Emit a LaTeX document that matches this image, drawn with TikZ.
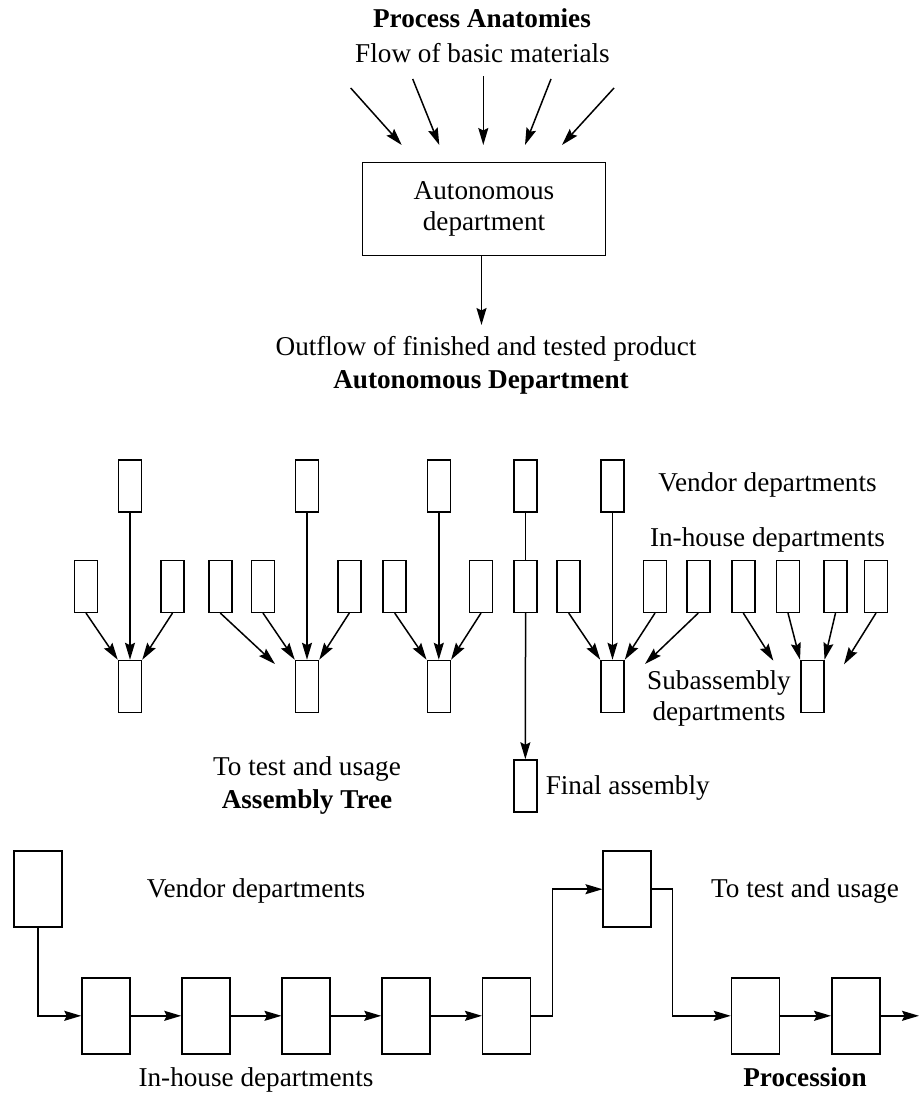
\documentclass[tikz,border=0pt]{standalone}
\usepackage{fontspec}
\setmainfont{Liberation Serif}
\usetikzlibrary{arrows.meta}
\newcommand\myfs{\fontsize{27.2}{31.3}\selectfont}
\begin{document}
\begin{tikzpicture}[x=1pt,y=-1pt,
  line width=1.5pt,
  arr/.style={-{Stealth[length=17pt,width=10pt,inset=2.5pt]}},
  dept/.style={draw, minimum width=23pt, minimum height=52pt, inner sep=0pt},
  pbox/.style={draw, minimum width=48pt, minimum height=76pt, inner sep=0pt},
  lbl/.style={inner sep=0pt, anchor=base, font=\myfs},
  bold/.style={font=\myfs\bfseries}
  ]
\useasboundingbox (0,0) rectangle (919,1095);

% ---------- Process anatomies / autonomous department ----------
\node[lbl,bold] (tpa) at (482,27) {Process Anatomies};
\node[lbl] (tflow) at (482.5,62) {Flow of basic materials};
\coordinate (a1s) at (350.7,88);  \coordinate (a1e) at (401.7,145);
\coordinate (a2s) at (412.7,79);  \coordinate (a2e) at (439.3,145);
\coordinate (a3s) at (483.3,76);  \coordinate (a3e) at (483.3,145);
\coordinate (a4s) at (551,79);    \coordinate (a4e) at (525,145);
\coordinate (a5s) at (614,88);    \coordinate (a5e) at (562,145);
\foreach \i in {1,...,5} \draw[arr] (a\i s) -- (a\i e);
\node[draw, minimum width=243pt, minimum height=93pt, inner sep=0pt,
      align=center, font=\myfs] (ad) at (484,209) {Autonomous\\department};
\coordinate (outend) at (481.5,325);
\draw[arr] (ad.south -| outend) -- (outend);
\node[lbl] (tout) at (486,355) {Outflow of finished and tested product};
\node[lbl,bold] (tad) at (481,388) {Autonomous Department};

% ---------- Assembly tree ----------
% group 1
\node[dept] (v1) at (130,485.8) {};
\node[dept] (h1a) at (86,586.3) {};
\node[dept] (h1b) at (172.5,586.3) {};
\node[dept] (s1) at (130,686.5) {};
\draw[arr] (v1) -- (s1);
\draw[arr] (h1a.south) -- (s1.north west);
\draw[arr] (h1b.south) -- (s1.north east);
% group 2
\node[dept] (h2a) at (220.3,586.3) {};
\node[dept] (h2b) at (263,586.3) {};
\node[dept] (v2) at (307,485.8) {};
\node[dept] (h2c) at (349.3,586.3) {};
\node[dept] (s2) at (307,686.5) {};
\coordinate (f2) at (275,664);
\draw[arr] (v2) -- (s2);
\draw[arr] (h2a.south) -- (f2);
\draw[arr] (h2b.south) -- (s2.north west);
\draw[arr] (h2c.south) -- (s2.north east);
% group 3
\node[dept] (h3a) at (394.7,586.3) {};
\node[dept] (v3) at (438.8,485.8) {};
\node[dept] (h3b) at (481,586.3) {};
\node[dept] (s3) at (438.8,686.5) {};
\draw[arr] (v3) -- (s3);
\draw[arr] (h3a.south) -- (s3.north west);
\draw[arr] (h3b.south) -- (s3.north east);
% final assembly path
\node[dept] (v4) at (525.6,485.8) {};
\node[dept] (h4) at (525.6,586.3) {};
\node[dept] (fa) at (525.3,786) {};
\draw (v4) -- (h4);
\draw[arr] (h4) -- (fa);
% group 4
\node[dept] (h5a) at (568.7,586.3) {};
\node[dept] (v5) at (612.5,485.8) {};
\node[dept] (h5b) at (655,586.3) {};
\node[dept] (h5c) at (698.3,586.3) {};
\node[dept] (s5) at (612.5,686.5) {};
\coordinate (f5) at (645,664);
\draw[arr] (v5) -- (s5);
\draw[arr] (h5a.south) -- (s5.north west);
\draw[arr] (h5b.south) -- (s5.north east);
\draw[arr] (h5c.south) -- (f5);
% group 5
\node[dept] (h6a) at (743.3,586.3) {};
\node[dept] (h6b) at (788,586.3) {};
\node[dept] (h6c) at (835.5,586.3) {};
\node[dept] (h6d) at (876,586.3) {};
\node[dept] (s6) at (812.3,686.5) {};
\coordinate (f6a) at (773.3,660.7);
\coordinate (f6d) at (844,664.3);
\draw[arr] (h6a.south) -- (f6a);
\draw[arr] (h6b.south) -- (s6.north west);
\draw[arr] (h6c.south) -- (s6.north east);
\draw[arr] (h6d.south) -- (f6d);
% labels
\node[lbl] (tvd) at (767.5,491) {Vendor departments};
\node[lbl] (tihd) at (767.5,546) {In-house departments};
\node[lbl] (tsub1) at (719,689) {Subassembly};
\node[lbl] (tsub2) at (719,720) {departments};
\node[lbl] (ttu) at (307,775) {To test and usage};
\node[lbl,bold] (tat) at (307,808) {Assembly Tree};
\node[lbl,anchor=base west] (tfa) at (545,794) {Final assembly};

% ---------- Procession ----------
\node[pbox] (pv) at (37.8,889.2) {};
\node[pbox] (p1) at (106,1015.8) {};
\node[pbox] (p2) at (206,1015.8) {};
\node[pbox] (p3) at (306.2,1015.8) {};
\node[pbox] (p4) at (406,1015.8) {};
\node[pbox] (p5) at (506.7,1015.8) {};
\node[pbox] (pu) at (627.2,889.2) {};
\node[pbox] (p6) at (755.5,1015.8) {};
\node[pbox] (p7) at (855.8,1015.8) {};
\coordinate (pend) at (919,1015.8);
\draw[arr] (pv.south) |- (p1.west);
\draw[arr] (p1) -- (p2);
\draw[arr] (p2) -- (p3);
\draw[arr] (p3) -- (p4);
\draw[arr] (p4) -- (p5);
\draw[arr] (p5.east) -- ++(21,0) |- (pu.west);
\draw[arr] (pu.east) -- ++(20.6,0) |- (p6.west);
\draw[arr] (p6) -- (p7);
\draw[arr] (p7) -- (pend);
\node[lbl] (tpvd) at (256,897) {Vendor departments};
\node[lbl] (tpihd) at (256,1086) {In-house departments};
\node[lbl] (tptu) at (805,897) {To test and usage};
\node[lbl,bold] (tproc) at (805,1086) {Procession};
\end{tikzpicture}
\end{document}
